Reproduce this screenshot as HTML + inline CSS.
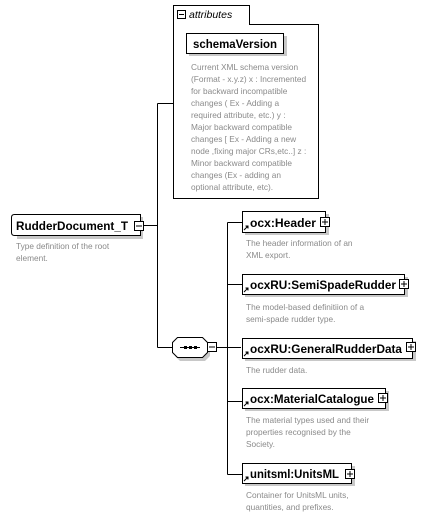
<!DOCTYPE html>
<html><head><meta charset="utf-8"><style>
html,body{margin:0;padding:0;background:#fff;}
svg{display:block;}
.l{font-family:"Liberation Sans",sans-serif;font-weight:bold;font-size:11.5px;fill:#000;}
.d{font-family:"Liberation Sans",sans-serif;font-size:8.3px;fill:#8a8a8a;}
</style></head><body>
<svg width="427" height="519" viewBox="0 0 427 519" xmlns="http://www.w3.org/2000/svg">
<g fill="none" stroke="#000" stroke-width="1">
<path d="M143.5 225.5H157.5M157.5 103.5V347.5M157.5 103.5H173M157.5 347.5H173"/>
<path d="M217 347.5H241M227.5 222.5V474.5M227.5 222.5H242M227.5 284.5H242M227.5 401.5H242M227.5 474.5H242"/>
</g>
<path d="M173.5 198.5V5.5H249.5V24.5H318.5V198.5Z" fill="#fff" stroke="#000"/>
<rect x="177.5" y="10.5" width="8" height="8" fill="#fff" stroke="#000"/>
<path d="M179 14.5H184" stroke="#000"/>
<text x="189" y="18" font-family="Liberation Sans,sans-serif" font-style="italic" font-size="10.5" fill="#000">attributes</text>
<rect x="189" y="36" width="98" height="20" fill="#c8c8c8"/>
<rect x="186.5" y="33.5" width="97" height="20" fill="#fff" stroke="#000"/>
<text class="l" x="193" y="48" textLength="84" lengthAdjust="spacingAndGlyphs">schemaVersion</text>
<g class="d">
<text x="191" y="70">Current XML schema version</text>
<text x="191" y="82">(Format - x.y.z) x : Incremented</text>
<text x="191" y="94">for backward incompatible</text>
<text x="191" y="106">changes ( Ex - Adding a</text>
<text x="191" y="118">required attribute, etc.) y :</text>
<text x="191" y="130">Major backward compatible</text>
<text x="191" y="142">changes [ Ex - Adding a new</text>
<text x="191" y="154">node ,fixing major CRs,etc..] z :</text>
<text x="191" y="166">Minor backward compatible</text>
<text x="191" y="178">changes (Ex - adding an</text>
<text x="191" y="190">optional attribute, etc).</text>
</g>
<path d="M17 217H143V239H17Z" fill="#c8c8c8"/>
<path d="M14.5 214.5H140.5V235.5H14.5Q11.5 235.5 11.5 232.5V217.5Q11.5 214.5 14.5 214.5Z" fill="#fff" stroke="#000"/>
<text class="l" x="16" y="230" textLength="112" lengthAdjust="spacingAndGlyphs">RudderDocument_T</text>
<rect x="134.5" y="221.5" width="9" height="9" fill="#fff" stroke="#000"/>
<path d="M136 226H142" stroke="#000"/>
<text class="d" x="16" y="249">Type definition of the root</text>
<text class="d" x="16" y="261">element.</text>
<path d="M180 340H205L210 345V356L205 361H180L175 356V345Z" fill="#c8c8c8"/>
<path d="M177.5 337.5H202.5L207.5 342.5V352.5L202.5 357.5H177.5L172.5 352.5V342.5Z" fill="#fff" stroke="#000"/>
<path d="M180 347.5H200" stroke="#000"/>
<rect x="184" y="346" width="3" height="3" fill="#000"/><rect x="189" y="346" width="3" height="3" fill="#000"/><rect x="194" y="346" width="3" height="3" fill="#000"/>
<rect x="207.5" y="342.5" width="9" height="9" fill="#fff" stroke="#000"/>
<path d="M209 347H215" stroke="#000"/>
<g>
<rect x="245" y="214" width="84" height="21" fill="#c8c8c8"/>
<rect x="242.5" y="211.5" width="83" height="21" fill="#fff" stroke="#000"/>
<text class="l" x="250" y="227" textLength="66" lengthAdjust="spacingAndGlyphs">ocx:Header</text>
<rect x="320.5" y="217.5" width="9" height="9" fill="#fff" stroke="#000"/><path d="M322 222H328M325 219V225" stroke="#000"/>
<path d="M244 230L248 226M245.5 226H248V228.5" stroke="#000"/>
<text class="d" x="246" y="246">The header information of an</text>
<text class="d" x="246" y="258">XML export.</text>

<rect x="245" y="277" width="163" height="20" fill="#c8c8c8"/>
<rect x="242.5" y="274.5" width="162" height="20" fill="#fff" stroke="#000"/>
<text class="l" x="250" y="289" textLength="146" lengthAdjust="spacingAndGlyphs">ocxRU:SemiSpadeRudder</text>
<rect x="399.5" y="279.5" width="9" height="9" fill="#fff" stroke="#000"/><path d="M401 284H407M404 281V287" stroke="#000"/>
<path d="M244 292L248 288M245.5 288H248V290.5" stroke="#000"/>
<text class="d" x="246" y="310">The  model-based definitiion of a</text>
<text class="d" x="246" y="322">semi-spade rudder type.</text>

<rect x="245" y="341" width="171" height="20" fill="#c8c8c8"/>
<rect x="242.5" y="338.5" width="170" height="20" fill="#fff" stroke="#000"/>
<text class="l" x="250" y="353" textLength="152" lengthAdjust="spacingAndGlyphs">ocxRU:GeneralRudderData</text>
<rect x="406.5" y="342.5" width="9" height="9" fill="#fff" stroke="#000"/><path d="M408 347H414M411 344V350" stroke="#000"/>
<path d="M244 356L248 352M245.5 352H248V354.5" stroke="#000"/>
<text class="d" x="246" y="373">The rudder data.</text>

<rect x="245" y="391" width="144" height="20" fill="#c8c8c8"/>
<rect x="242.5" y="388.5" width="143" height="20" fill="#fff" stroke="#000"/>
<text class="l" x="250" y="403" textLength="124" lengthAdjust="spacingAndGlyphs">ocx:MaterialCatalogue</text>
<rect x="378.5" y="393.5" width="9" height="9" fill="#fff" stroke="#000"/><path d="M380 398H386M383 395V401" stroke="#000"/>
<path d="M244 406L248 402M245.5 402H248V404.5" stroke="#000"/>
<text class="d" x="246" y="423">The material types used and their</text>
<text class="d" x="246" y="435">properties recognised by the</text>
<text class="d" x="246" y="447">Society.</text>

<rect x="245" y="466" width="110" height="20" fill="#c8c8c8"/>
<rect x="242.5" y="463.5" width="109" height="20" fill="#fff" stroke="#000"/>
<text class="l" x="250" y="478" textLength="89" lengthAdjust="spacingAndGlyphs">unitsml:UnitsML</text>
<rect x="345.5" y="469.5" width="9" height="9" fill="#fff" stroke="#000"/><path d="M347 474H353M350 471V477" stroke="#000"/>
<path d="M244 481L248 477M245.5 477H248V479.5" stroke="#000"/>
<text class="d" x="246" y="498">Container for UnitsML units,</text>
<text class="d" x="246" y="510">quantities, and prefixes.</text>
</g>
</svg>
</body></html>
